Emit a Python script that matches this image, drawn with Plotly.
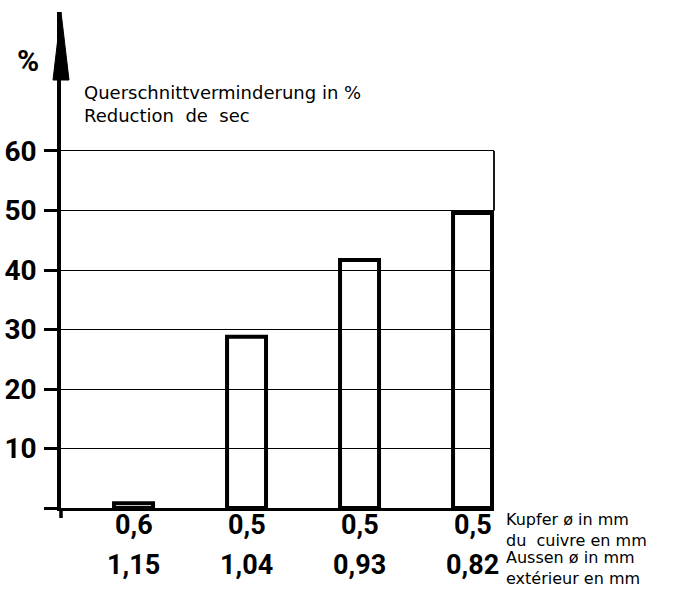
import plotly.graph_objects as go

# ---- data ----
positions = [0, 1, 2, 3]
reduction_pct = [0.8, 28.8, 41.7, 49.6]
copper_mm = ["0,6", "0,5", "0,5", "0,5"]
outer_mm = ["1,15", "1,04", "0,93", "0,82"]
y_ticks = [0, 10, 20, 30, 40, 50, 60]
y_ticktext = ["", "10", "20", "30", "40", "50", "60"]

W, H = 677, 589
L, R, T, B = 61, 183, 12, 81
ymax = 83.36
xmin, xmax = -0.642, 3.19
bar_w = 0.345

cond = "Roboto, 'Liberation Sans', sans-serif"
plain = "'DejaVu Sans', 'Liberation Sans', sans-serif"

fig = go.Figure()
fig.add_trace(go.Bar(
    x=positions, y=reduction_pct, width=bar_w,
    marker=dict(color="rgba(0,0,0,0)", line=dict(color="black", width=4)),
    hoverinfo="skip",
))

plot_h = H - T - B
plot_w = W - L - R

def py(v):
    return v / ymax

shapes = [
    # arrow head at top of y axis
    dict(type="path", xref="paper", yref="paper",
         path=f"M 0 1 L {-8/plot_w} {1-68/plot_h} L {8/plot_w} {1-68/plot_h} Z",
         fillcolor="black", line=dict(color="black", width=1), layer="above"),
    # y-axis extension below baseline
    dict(type="line", xref="paper", yref="paper", x0=0, x1=0, y0=0, y1=-10/plot_h,
         line=dict(color="black", width=3.5)),
    # right closing line of top box
    dict(type="line", xref="paper", yref="paper", x0=1, x1=1, y0=py(50), y1=py(60),
         line=dict(color="black", width=1.8)),
]

lab_font = dict(family=cond, size=27, color="black", weight=700)
annotations = []
for p, c, o in zip(positions, copper_mm, outer_mm):
    annotations.append(dict(x=p, y=-17/plot_h, xref="x", yref="paper", text=c, showarrow=False,
                            font=lab_font, xanchor="center", yanchor="middle"))
    annotations.append(dict(x=p, y=-57/plot_h, xref="x", yref="paper", text=o, showarrow=False,
                            font=lab_font, xanchor="center", yanchor="middle"))

annotations += [
    dict(x=(28-L)/plot_w, y=1-(60-T)/plot_h, xref="paper", yref="paper", text="%", showarrow=False,
         font=dict(family=cond, size=30, color="black", weight=700), xanchor="center", yanchor="middle"),
    dict(x=(82-L)/plot_w, y=1-(80-T)/plot_h, xref="paper", yref="paper",
         text="Querschnittverminderung in %<br>Reduction  de  sec", showarrow=False, align="left",
         font=dict(family=plain, size=18, color="black"), xanchor="left", yanchor="top"),
    dict(x=(504-L)/plot_w, y=-22/plot_h, xref="paper", yref="paper",
         text="Kupfer ø in mm<br>du  cuivre en mm", showarrow=False, align="left",
         font=dict(family=plain, size=16, color="black"), xanchor="left", yanchor="middle"),
    dict(x=(504-L)/plot_w, y=-60/plot_h, xref="paper", yref="paper",
         text="Aussen ø in mm<br>extérieur en mm", showarrow=False, align="left",
         font=dict(family=plain, size=16, color="black"), xanchor="left", yanchor="middle"),
]

fig.update_layout(
    width=W, height=H,
    margin=dict(l=L, r=R, t=T, b=B, autoexpand=False),
    paper_bgcolor="white", plot_bgcolor="white",
    showlegend=False,
    shapes=shapes, annotations=annotations,
    xaxis=dict(range=[xmin, xmax], showgrid=False, zeroline=False, showticklabels=False,
               showline=True, linecolor="black", linewidth=2.5, ticks="", automargin=False),
    yaxis=dict(range=[0, ymax], tickvals=y_ticks, ticktext=y_ticktext, automargin=False,
               showgrid=True, gridcolor="black", gridwidth=1.3, zeroline=False,
               showline=True, linecolor="black", linewidth=3.5,
               ticks="outside", ticklen=13, tickwidth=2.5, tickcolor="black",
               tickfont=dict(family=cond, size=28, color="black", weight=700), ticklabelstandoff=2),
)

fig.write_html("out.html", config={"displayModeBar": False},
               post_script="document.body.style.margin='0';document.body.style.overflow='hidden';")
